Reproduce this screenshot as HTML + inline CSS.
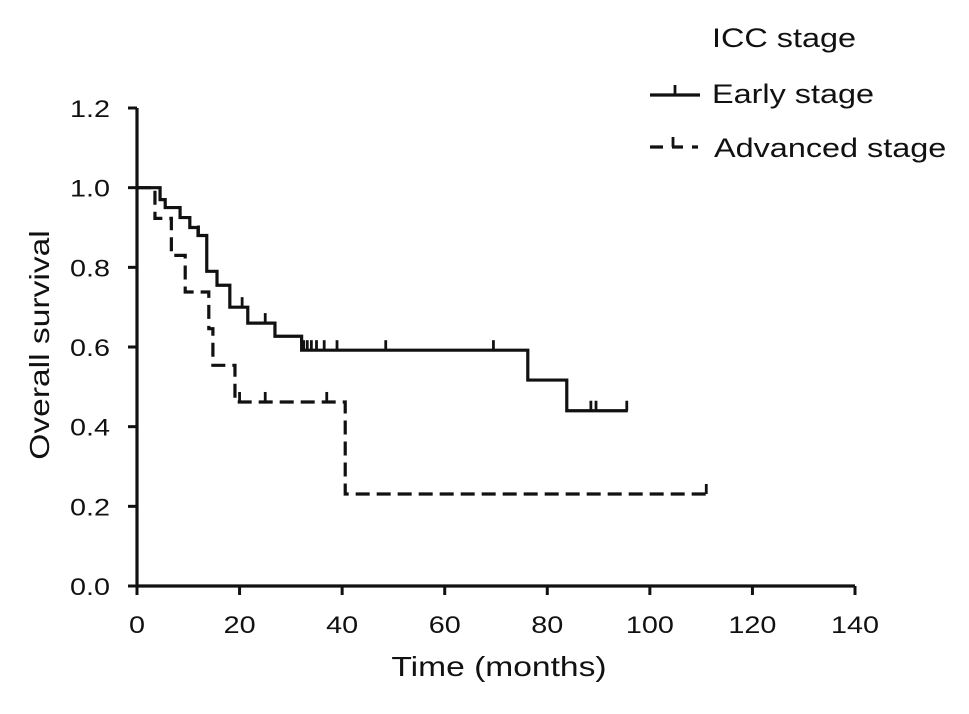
<!DOCTYPE html>
<html><head><meta charset="utf-8"><style>
body{margin:0;background:#fff}
svg text{font-family:"Liberation Sans",Arial,sans-serif;fill:#111}
</style></head><body>
<svg width="969" height="709" viewBox="0 0 969 709" id="c">
<g id="axes"></g><g id="series"></g>
<g>
<text transform="translate(712 47) scale(1.2 1)" font-size="27">ICC stage</text>
<g>
<line x1="650" y1="95" x2="700" y2="95" stroke="#111" stroke-width="3.2"/>
<line x1="675" y1="85" x2="675" y2="95" stroke="#111" stroke-width="2.8"/>
<text transform="translate(712 103) scale(1.2 1)" font-size="27">Early stage</text></g>
<g>
<path d="M650 147H663M672 147H683M692 147H698" stroke="#111" stroke-width="3.2"/>
<line x1="673" y1="137" x2="673" y2="147" stroke="#111" stroke-width="2.8"/>
<text transform="translate(714 157) scale(1.2 1)" font-size="27">Advanced stage</text></g>
</g>
</svg>
<script>
const xTicks=[0,20,40,60,80,100,120,140];
const yTicks=[0.0,0.2,0.4,0.6,0.8,1.0,1.2];
const earlyTimes=[0,4.5,5.5,8.4,10.3,11.9,13.6,15.6,18.1,21.6,26.9,32.1,76.2,83.8,95.7];
const earlyVals=[1.0,0.97,0.95,0.925,0.9,0.88,0.79,0.755,0.70,0.66,0.627,0.592,0.517,0.44,0.44];
const earlyCensor=[12,15.6,20.5,25,32.5,33.2,34,35,36.5,39,48.5,69.5,88.5,89.5,95.5];
const advTimes=[0,3.5,6.7,9.4,14.0,14.8,19.1,40.6,111];
const advVals=[1.0,0.923,0.83,0.738,0.646,0.554,0.462,0.231,0.231];
const advCensor=[20,25,37,111];
const X=t=>137+t*(718/140), Y=v=>586-v*(478/1.2);
const NS="http://www.w3.org/2000/svg";
function mk(tag,attrs,parent){const e=document.createElementNS(NS,tag);for(const k in attrs)e.setAttribute(k,attrs[k]);parent.appendChild(e);return e;}
const ax=document.getElementById('axes'), se=document.getElementById('series');
let a=mk('path',{d:`M${X(0)} ${Y(1.2)}V${Y(0)}H${X(140)}`,stroke:'#111','stroke-width':3.2,fill:'none'},ax);


xTicks.forEach(t=>{
 const l=mk('line',{x1:X(t),x2:X(t),y1:Y(0),y2:Y(0)+9,stroke:'#111','stroke-width':3},ax);
 
 
 const tx=mk('text',{transform:`translate(${X(t)} ${Y(0)+47}) scale(1.2 1)`,'font-size':24,'text-anchor':'middle'},ax);tx.textContent=t;
 
 
});
yTicks.forEach(v=>{
 const l=mk('line',{x1:X(0)-9,x2:X(0),y1:Y(v),y2:Y(v),stroke:'#111','stroke-width':3},ax);
 
 
 const tx=mk('text',{transform:`translate(${X(0)-27} ${Y(v)+9}) scale(1.2 1)`,'font-size':24,'text-anchor':'end'},ax);tx.textContent=v.toFixed(1);
 
 
});
let xt=mk('text',{transform:'translate(499 676) scale(1.2 1)','font-size':28,'text-anchor':'middle'},ax);xt.textContent='Time (months)';


let yt=mk('text',{transform:`translate(49 ${Y(0.6)-2}) rotate(-90) scale(1.2 1)`,'font-size':28,'text-anchor':'middle'},ax);yt.textContent='Overall survival';


function stepPath(ts,vs){let d=`M${X(ts[0])} ${Y(vs[0])}`;for(let i=1;i<ts.length;i++){d+=`H${X(ts[i])}V${Y(vs[i])}`;}return d;}
function valAt(ts,vs,t){let v=vs[0];for(let i=0;i<ts.length;i++)if(ts[i]<=t)v=vs[i];return v;}
function draw(ts,vs,cs,dash,name){
 const g=mk('g',{},se);
 
 
 const p=mk('path',{d:stepPath(ts,vs),stroke:'#111','stroke-width':3.2,fill:'none'},g);
 if(dash)p.setAttribute('stroke-dasharray',dash);
 
 
 cs.forEach(t=>{const v=valAt(ts,vs,t);
  const c=mk('line',{x1:X(t),x2:X(t),y1:Y(v)-10,y2:Y(v),stroke:'#111','stroke-width':2.8},g);
  
  });
}
draw(earlyTimes,earlyVals,earlyCensor,null,'early-stage-curve');
draw(advTimes,advVals,advCensor,'14 7','advanced-stage-curve');
</script>
</body></html>
